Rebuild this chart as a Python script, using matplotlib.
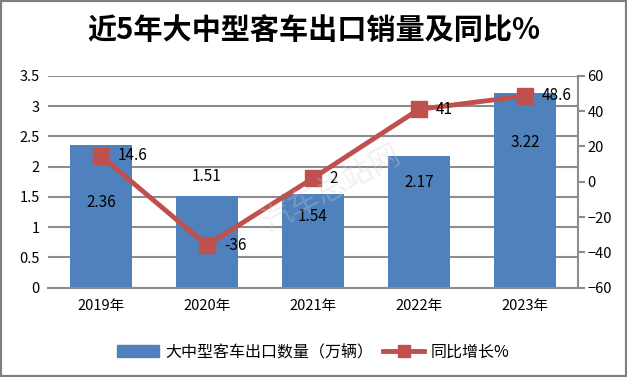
import matplotlib
matplotlib.use('Agg')
import matplotlib.pyplot as plt
from matplotlib.lines import Line2D
from matplotlib.patches import Patch, Rectangle
import numpy as np

plt.rcParams['font.family'] = ['Noto Sans CJK SC', 'DejaVu Sans']

years = ['2019年', '2020年', '2021年', '2022年', '2023年']
volume = [2.36, 1.51, 1.54, 2.17, 3.22]          # 万辆
yoy = [14.6, -36, 2, 41, 48.6]                    # %
# label heights (left-axis units) as placed in the reference
volume_label_y = [1.40, 1.83, 1.17, 1.73, 2.39]

BAR_C = '#4F81BD'
LINE_C = '#C0504D'
GRID_C = '#8C8C8C'

fig = plt.figure(figsize=(6.27, 3.77), dpi=100)
fig.patches.append(Rectangle((0, 0), 1, 1, transform=fig.transFigure,
                             fill=False, edgecolor='#7F7F7F', linewidth=3))

ax = fig.add_axes([0.0766, 0.237, 0.845, 0.562])
x = np.arange(len(years))
ax.bar(x, volume, width=0.58, color=BAR_C, zorder=2)
ax.set_ylim(0, 3.5)
ax.set_xlim(-0.5, len(years) - 0.5)
ax.set_yticks(np.arange(0, 3.51, 0.5))
ax.set_yticklabels(['0', '0.5', '1', '1.5', '2', '2.5', '3', '3.5'])
ax.set_xticks(x)
ax.set_xticklabels(years)
ax.grid(axis='y', color=GRID_C, linewidth=1.5, zorder=0)
ax.set_axisbelow(True)
for s in ['left', 'top', 'right']:
    ax.spines[s].set_visible(False)
ax.spines['bottom'].set_color(GRID_C)
ax.spines['bottom'].set_linewidth(1.5)
ax.tick_params(axis='both', length=0, labelsize=10.5, pad=6)
ax.tick_params(axis='x', pad=8)

for xi, v, ly in zip(x, volume, volume_label_y):
    ax.text(xi, ly, f'{v:g}', ha='center', va='center', fontsize=11, zorder=5)

ax2 = ax.twinx()
ax2.plot(x, yoy, color=LINE_C, linewidth=3.5, marker='s', markersize=11,
         zorder=4)
ax2.set_ylim(-60, 60)
ax2.set_yticks(np.arange(-60, 61, 20))
for s in ['left', 'top', 'bottom']:
    ax2.spines[s].set_visible(False)
ax2.spines['right'].set_color(GRID_C)
ax2.spines['right'].set_linewidth(1.5)
ax2.tick_params(axis='y', direction='out', length=5, width=1.5,
                color=GRID_C, labelsize=10.5, pad=2)

for xi, v in zip(x, yoy):
    ax2.text(xi + 0.16, v, f'{v:g}', ha='left', va='center', fontsize=11,
             zorder=5)

# faint watermark
fig.text(0.53, 0.50, '汽车总站网', fontsize=22, color='#D0D0D0', alpha=0.3,
         rotation=28, ha='center', va='center')

fig.text(0.5, 0.92, '近5年大中型客车出口销量及同比%', ha='center', va='center',
         fontsize=21, fontweight='bold')

handles = [Patch(color=BAR_C),
           Line2D([0], [0], color=LINE_C, linewidth=3.5, marker='s', markersize=9)]
fig.legend(handles, ['大中型客车出口数量（万辆）', '同比增长%'],
           loc='center', bbox_to_anchor=(0.5, 0.066), ncol=2, frameon=False,
           fontsize=11.5, handlelength=2.6, columnspacing=0.6, handletextpad=0.4)

fig.savefig('out.png', dpi=100)
